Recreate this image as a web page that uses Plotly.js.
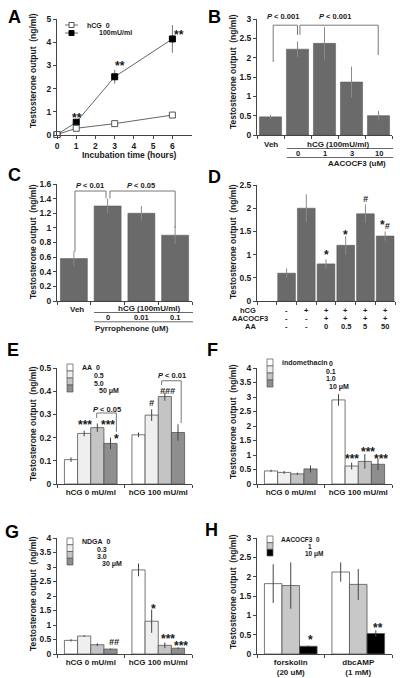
<!DOCTYPE html>
<html><head><meta charset="utf-8">
<script src="https://cdn.plot.ly/plotly-3.0.1.min.js"></script>
<style>html,body{margin:0;padding:0;background:#fff}#chart{width:400px;height:678px}</style>
</head><body><div id="chart"></div>
<script>
// ================= DATA =================
// Panel A: time course
const timeHours = [0, 1, 3, 6];
const aCtrl = [0.02, 0.29, 0.49, 0.86];
const aCtrlErr = [0.02, 0.05, 0.06, 0.06];
const aHcg = [0.02, 0.55, 2.51, 4.14];
const aHcgErr = [0.02, 0.1, 0.3, 0.6];
const aLegend = ['hCG\u00a0\u00a00', '100mU/ml'];
const aTicks = [0, 1, 2, 3, 4, 5, 6];

// Panel B: AACOCF3 dose
const bDoses = ['0', '1', '3', '10'];
const bValues = [0.47, 2.22, 2.37, 1.37, 0.5];
const bErr = [0.05, 0.2, 0.42, 0.4, 0.12];

// Panel C: Pyrrophenone dose
const cDoses = ['0', '0.01', '0.1'];
const cValues = [0.58, 1.3, 1.2, 0.9];
const cErr = [0.1, 0.1, 0.1, 0.12];

// Panel D: AA rescue
const dHcg = ['-', '+', '+', '+', '+', '+'];
const dAacocf3 = ['-', '-', '+', '+', '+', '+'];
const dAA = ['-', '-', '0', '0.5', '5', '50'];
const dValues = [0.6, 2.0, 0.8, 1.2, 1.88, 1.4];
const dErr = [0.1, 0.3, 0.1, 0.2, 0.2, 0.1];

// Panels E-G: grouped by hCG
const groups = ['hCG 0 mU/ml', 'hCG 100 mU/ml'];
const eDoses = ['0', '0.5', '5.0', '50'];
const eAA0 = [0.105, 0.212], eAA0Err = [0.01, 0.01];
const eAA05 = [0.218, 0.297], eAA05Err = [0.012, 0.025];
const eAA5 = [0.243, 0.377], eAA5Err = [0.018, 0.018];
const eAA50 = [0.175, 0.222], eAA50Err = [0.025, 0.035];

const fDoses = ['0', '0.1', '1.0', '10'];
const fInd0 = [0.45, 2.9], fInd0Err = [0.04, 0.2];
const fInd01 = [0.4, 0.62], fInd01Err = [0.05, 0.12];
const fInd1 = [0.35, 0.78], fInd1Err = [0.04, 0.25];
const fInd10 = [0.52, 0.68], fInd10Err = [0.12, 0.2];

const gDoses = ['0', '0.3', '3.0', '30'];
const gNd0 = [0.47, 2.9], gNd0Err = [0.04, 0.22];
const gNd03 = [0.62, 1.13], gNd03Err = [0.03, 0.4];
const gNd3 = [0.32, 0.3], gNd3Err = [0.05, 0.1];
const gNd30 = [0.17, 0.2], gNd30Err = [0.02, 0.03];

// Panel H
const hGroups = ['forskolin<br>(20 uM)', 'dbcAMP<br>(1 mM)'];
const hDoses = ['0', '1', '10'];
const hAac0 = [1.82, 2.12], hAac0Err = [0.5, 0.25];
const hAac1 = [1.77, 1.8], hAac1Err = [0.6, 0.4];
const hAac10 = [0.2, 0.53], hAac10Err = [0.02, 0.08];

// ================= STYLE / HELPERS =================
const W = 400, H = 678;
const px = v => v / W, py = v => 1 - v / H;
const FONT = "'Liberation Sans', Arial, Helvetica, sans-serif";
const TXT = '#1a1a1a', AX = '#444', BRK = '#777';
const f = (size, extra) => Object.assign({family: FONT, size: size, color: TXT, weight: 'bold'}, extra || {});
const GAP = 0.22;
const greys4 = ['#ffffff', '#efefef', '#c4c4c4', '#8e8e8e'];
const greysH = ['#ffffff', '#c8c8c8', '#000000'];
const darkBar = '#6a6a6a';

const annotations = [], shapes = [];
function note(text, x, y, o) {
  annotations.push(Object.assign({text: text, x: x, y: y, xref: 'paper', yref: 'paper', showarrow: false,
    font: f(8.5), xanchor: 'center', yanchor: 'middle'}, o || {}));
}
function pline(x0, x1, y0, y1) {
  shapes.push({type: 'line', xref: 'paper', yref: 'paper', x0: px(x0), x1: px(x1), y0: py(y0), y1: py(y1),
    line: {color: AX, width: 0.8}});
}
function dline(xa, ya, x0, y0, x1, y1) {
  shapes.push({type: 'line', xref: xa, yref: ya, x0: x0, y0: y0, x1: x1, y1: y1, line: {color: BRK, width: 1}});
}
function bracket(xa, ya, xL, yL, xR, yR, top) {
  dline(xa, ya, xL, yL, xL, top); dline(xa, ya, xL, top, xR, top); dline(xa, ya, xR, top, xR, yR);
}
function legendBoxes(x0, x1, yTop, h, colors) {
  colors.forEach((c, i) => shapes.push({type: 'rect', xref: 'paper', yref: 'paper', x0: px(x0), x1: px(x1),
    y0: py(yTop + i * h), y1: py(yTop + (i + 1) * h), fillcolor: c, line: {color: '#555', width: 0.7}}));
}
function offset(k, n) { const w = (1 - GAP) / n; return -(1 - GAP) / 2 + (k + 0.5) * w; }

function xax(x0, x1, anchor, extra) {
  return Object.assign({domain: [px(x0), px(x1)], anchor: anchor, showline: true, linecolor: AX, linewidth: 1,
    ticks: 'outside', ticklen: 3, tickcolor: AX, tickfont: f(8.5), tickangle: 0, showgrid: false, zeroline: false,
    fixedrange: true}, extra);
}
function yax(y0, y1, anchor, range, dtick) {
  return {domain: [py(y1), py(y0)], anchor: anchor, range: range, dtick: dtick, tick0: 0, showline: true,
    linecolor: AX, linewidth: 1, ticks: 'outside', ticklen: 3, tickcolor: AX, tickfont: f(8.5),
    showgrid: false, zeroline: false, fixedrange: true};
}
const idx = (arr, start) => arr.map((_, i) => i + (start || 0));

const traces = [];
function errY(arr, color) { return {type: 'data', array: arr, color: color, thickness: 1, width: 0}; }

// ================= PANEL A =================
traces.push({x: timeHours, y: aHcg, error_y: errY(aHcgErr, '#777'), mode: 'lines+markers', type: 'scatter',
  line: {color: '#666', width: 1}, marker: {symbol: 'square', size: 6, color: '#000', line: {color: '#000', width: 1}},
  xaxis: 'x', yaxis: 'y', cliponaxis: false});
traces.push({x: timeHours, y: aCtrl, error_y: errY(aCtrlErr, '#777'), mode: 'lines+markers', type: 'scatter',
  line: {color: '#666', width: 1}, marker: {symbol: 'square', size: 6, color: '#fff', line: {color: '#555', width: 1}},
  xaxis: 'x', yaxis: 'y', cliponaxis: false});
[[1.05, 0.86], [3.29, 3.09], [6.33, 4.45]].forEach(p => note('**', p[0], p[1], {xref: 'x', yref: 'y', font: f(12), yshift: -3}));
// legend A
pline(65, 78, 25, 25); pline(65, 78, 33, 33);
shapes.push({type: 'rect', xref: 'paper', yref: 'paper', x0: px(69), x1: px(74), y0: py(27.5), y1: py(22.5), fillcolor: '#fff', line: {color: '#555', width: 1}});
shapes.push({type: 'rect', xref: 'paper', yref: 'paper', x0: px(69), x1: px(74), y0: py(35.5), y1: py(30.5), fillcolor: '#000', line: {color: '#000', width: 1}});
note(aLegend[0], px(85), py(25), {xanchor: 'left', font: f(7)});
note(aLegend[1], px(97), py(33), {xanchor: 'left', font: f(7)});
note('Incubation time (hours)', px(129), py(155), {font: f(8.5)});

// ================= PANEL B =================
traces.push({type: 'bar', x: idx(bValues), y: bValues, width: 0.82, marker: {color: darkBar, line: {color: '#555', width: 0.5}},
  error_y: errY(bErr, '#8a8a8a'), xaxis: 'x2', yaxis: 'y2'});
bracket('x2', 'y2', 0.1, 1.89, 1.0, 2.59, 2.84);
bracket('x2', 'y2', 1.09, 2.59, 3.99, 2.07, 2.84);
note('<i>P</i> &lt; 0.001', 0.46, py(17), {xref: 'x2', font: f(7.5)});
note('<i>P</i> &lt; 0.001', 2.39, py(17), {xref: 'x2', font: f(7.5)});
note('Veh', 0, py(145), {xref: 'x2', font: f(8)});
note('hCG (100mU/ml)', 2.5, py(144.5), {xref: 'x2', font: f(8)});
pline(287, 393, 148.5, 148.5);
bDoses.forEach((d, i) => note(d, i + 1, py(153.3), {xref: 'x2', font: f(7.5)}));
pline(287, 393, 157.5, 157.5);
note('AACOCF3 (uM)', 3.2, py(163.5), {xref: 'x2', font: f(8)});

// ================= PANEL C =================
traces.push({type: 'bar', x: idx(cValues), y: cValues, width: 0.8, marker: {color: darkBar, line: {color: '#555', width: 0.5}},
  error_y: errY(cErr, '#8a8a8a'), xaxis: 'x3', yaxis: 'y3'});
bracket('x3', 'y3', 0.033, 0.674, 0.952, 1.404, 1.504);
bracket('x3', 'y3', 1.07, 1.404, 3.0, 1.0, 1.504);
note('<i>P</i> &lt; 0.01', 0.48, 1.58, {xref: 'x3', yref: 'y3', font: f(7.5)});
note('<i>P</i> &lt; 0.05', 2.0, 1.58, {xref: 'x3', yref: 'y3', font: f(7.5)});
note('Veh', 0.1, py(309.5), {xref: 'x3', font: f(8)});
note('hCG (100mU/ml)', 2.25, py(309), {xref: 'x3', font: f(8)});
pline(94, 193, 312.5, 312.5);
cDoses.forEach((d, i) => note(d, i + 1, py(317.3), {xref: 'x3', font: f(7.5)}));
pline(94, 193, 321.8, 321.8);
note('Pyrrophenone (uM)', 1.72, py(328.3), {xref: 'x3', font: f(8)});

// ================= PANEL D =================
traces.push({type: 'bar', x: idx(dValues, 1), y: dValues, width: 0.9, marker: {color: darkBar, line: {color: '#555', width: 0.5}},
  error_y: errY(dErr, '#8a8a8a'), xaxis: 'x4', yaxis: 'y4'});
note('*', 3, 1.06, {xref: 'x4', yref: 'y4', font: f(12), yshift: -3});
note('*', 4, 1.49, {xref: 'x4', yref: 'y4', font: f(12), yshift: -3});
note('<i>#</i>', 5, 2.2, {xref: 'x4', yref: 'y4', font: f(9)});
note('<span style="font-size:12px">*</span><i>#</i>', 6, 1.64, {xref: 'x4', yref: 'y4', font: f(9)});
note('hCG', px(248), py(310), {font: f(7.5)});
note('AACOCF3', px(250), py(318), {font: f(7.5)});
note('AA', px(250), py(326.5), {font: f(7.5)});
dHcg.forEach((s, i) => note(s, i + 1, py(310), {xref: 'x4', font: f(7.5)}));
dAacocf3.forEach((s, i) => note(s, i + 1, py(318), {xref: 'x4', font: f(7.5)}));
dAA.forEach((s, i) => note(s, i + 1, py(326.5), {xref: 'x4', font: f(7.5)}));

// ================= GROUPED PANELS =================
function groupTraces(series, errs, colors, xa, ya, xs) {
  series.forEach((s, k) => traces.push({type: 'bar', x: xs, y: s, marker: {color: colors[k], line: {color: '#555', width: 0.8}},
    error_y: errY(errs[k], '#444'), xaxis: xa, yaxis: ya}));
}
function marks(list, n, xa, ya) {
  list.forEach(m => {
    const star = m[2].indexOf('*') >= 0;
    note(star ? m[2] : '<i>' + m[2] + '</i>', m[0] + offset(m[1], n), m[3],
      {xref: xa, yref: ya, font: star ? f(12) : f(9), yshift: star ? -3 : 0, xshift: m[4] || 0});
  });
}

// E
groupTraces([eAA0, eAA05, eAA5, eAA50], [eAA0Err, eAA05Err, eAA5Err, eAA50Err], greys4, 'x5', 'y5', groups);
marks([[0, 1, '***', 0.267, 1], [0, 3, '***', 0.267, -2], [0, 3, '*', 0.205, 6], [1, 1, '#', 0.35, 0], [1, 2, '###', 0.402, 3]], 4, 'x5', 'y5');
bracket('x5', 'y5', 0.088, 0.285, 0.38, 0.225, 0.306);
bracket('x5', 'y5', 1.05, 0.427, 1.34, 0.263, 0.445);
note('<i>P</i> &lt; 0.05', 0.24, 0.323, {xref: 'x5', yref: 'y5', font: f(7.5)});
note('<i>P</i> &lt; 0.01', 1.2, 0.466, {xref: 'x5', yref: 'y5', font: f(7.5)});
legendBoxes(67, 73, 364, 7, greys4);
note('AA', px(80), py(367), {xanchor: 'left', font: f(7)});
note(eDoses[0], px(98), py(367), {font: f(7)});
note(eDoses[1], px(99), py(375), {font: f(7)});
note(eDoses[2], px(99), py(383), {font: f(7)});
note(eDoses[3] + ' μM', px(97), py(391), {xanchor: 'left', font: f(7)});

// F
groupTraces([fInd0, fInd01, fInd1, fInd10], [fInd0Err, fInd01Err, fInd1Err, fInd10Err], greys4, 'x6', 'y6', groups);
marks([[1, 1, '***', 0.98, 0], [1, 2, '***', 1.2, 3], [1, 3, '***', 0.98, 3]], 4, 'x6', 'y6');
legendBoxes(267, 273, 359, 7, greys4);
note('indomethacin', px(280), py(362), {xanchor: 'left', font: f(7)});
note(fDoses[0], px(331), py(363.5), {font: f(7)});
note(fDoses[1], px(331), py(371), {font: f(7)});
note(fDoses[2], px(331), py(378.5), {font: f(7)});
note(fDoses[3] + ' μM', px(327), py(386.5), {xanchor: 'left', font: f(7)});

// G
groupTraces([gNd0, gNd03, gNd3, gNd30], [gNd0Err, gNd03Err, gNd3Err, gNd30Err], greys4, 'x7', 'y7', groups);
marks([[0, 3, '##', 0.42, 4], [1, 1, '*', 1.65, 2], [1, 2, '***', 0.62, 3], [1, 3, '***', 0.37, 3]], 4, 'x7', 'y7');
legendBoxes(67, 73, 538, 6.75, greys4);
note('NDGA\u00a0\u00a0' + gDoses[0], px(80), py(541.5), {xanchor: 'left', font: f(7)});
note(gDoses[1], px(102), py(549), {font: f(7)});
note(gDoses[2], px(102), py(556.5), {font: f(7)});
note(gDoses[3] + ' μM', px(100), py(564), {xanchor: 'left', font: f(7)});

// H
groupTraces([hAac0, hAac1, hAac10], [hAac0Err, hAac1Err, hAac10Err], greysH, 'x8', 'y8', hGroups);
marks([[0, 2, '*', 0.45, 2], [1, 2, '**', 0.75, 2]], 3, 'x8', 'y8');
legendBoxes(267, 273, 536, 6.67, greysH);
note('AACOCF3\u00a0\u00a0' + hDoses[0], px(279), py(539.5), {xanchor: 'left', font: f(6.5)});
note(hDoses[1], px(310), py(546.5), {font: f(6.5)});
note(hDoses[2] + ' μM', px(303), py(553.5), {xanchor: 'left', font: f(6.5)});

// ================= TITLES & LETTERS =================
const yTitle = 'Testosterone output\u00a0 (ng/ml)';
[[33, 71], [233, 72], [33, 242], [233, 242], [33, 424], [233, 422], [33, 594], [233, 592]].forEach(p =>
  note(yTitle, px(p[0]), py(p[1]), {textangle: -90, font: f(8.5)}));
[['A', 14, 17], ['B', 214, 17], ['C', 14, 175], ['D', 214, 177], ['E', 13, 350], ['F', 212, 350], ['G', 12, 532], ['H', 211, 530]]
  .forEach(p => note(p[0], px(p[1]), py(p[2]), {font: f(18, {color: '#000'})}));

// ================= LAYOUT =================
const boundaries = n => Array.from({length: n + 1}, (_, i) => i - 0.5);
const layout = {
  width: W, height: H, margin: {l: 0, r: 0, t: 0, b: 0}, showlegend: false,
  paper_bgcolor: '#fff', plot_bgcolor: 'rgba(0,0,0,0)', barmode: 'group', bargap: GAP, bargroupgap: 0,
  font: f(8.5),
  xaxis: xax(57, 192, 'y', {range: [0, 7.02], tickvals: aTicks}),
  yaxis: yax(19, 135, 'x', [0, 5], 1),
  xaxis2: xax(257, 392, 'y2', {range: [-0.5, 4.5], tickvals: boundaries(5), showticklabels: false}),
  yaxis2: yax(19, 135, 'x2', [0, 3], 0.5),
  xaxis3: xax(57, 192, 'y3', {range: [-0.5, 3.5], tickvals: boundaries(4), showticklabels: false}),
  yaxis3: yax(184, 301, 'x3', [0, 1.6], 0.2),
  xaxis4: xax(257, 395, 'y4', {range: [-0.5, 6.5], tickvals: boundaries(7), showticklabels: false}),
  yaxis4: yax(185, 301, 'x4', [0, 2.5], 0.5),
  xaxis5: xax(57, 192, 'y5', {type: 'category', range: [-0.5, 1.5], tickson: 'boundaries', tickfont: f(8)}),
  yaxis5: yax(368, 484, 'x5', [0, 0.5], 0.1),
  xaxis6: xax(257, 392, 'y6', {type: 'category', range: [-0.5, 1.5], tickson: 'boundaries', tickfont: f(8)}),
  yaxis6: yax(368, 484, 'x6', [0, 4], 0.5),
  xaxis7: xax(57, 192, 'y7', {type: 'category', range: [-0.5, 1.5], tickson: 'boundaries', tickfont: f(8)}),
  yaxis7: yax(538, 654, 'x7', [0, 4], 0.5),
  xaxis8: xax(257, 392, 'y8', {type: 'category', range: [-0.5, 1.5], tickson: 'boundaries', tickfont: f(8)}),
  yaxis8: yax(538, 654, 'x8', [0, 3], 0.5),
  annotations: annotations, shapes: shapes
};
Plotly.newPlot('chart', traces, layout, {staticPlot: true, displayModeBar: false});
</script></body></html>
